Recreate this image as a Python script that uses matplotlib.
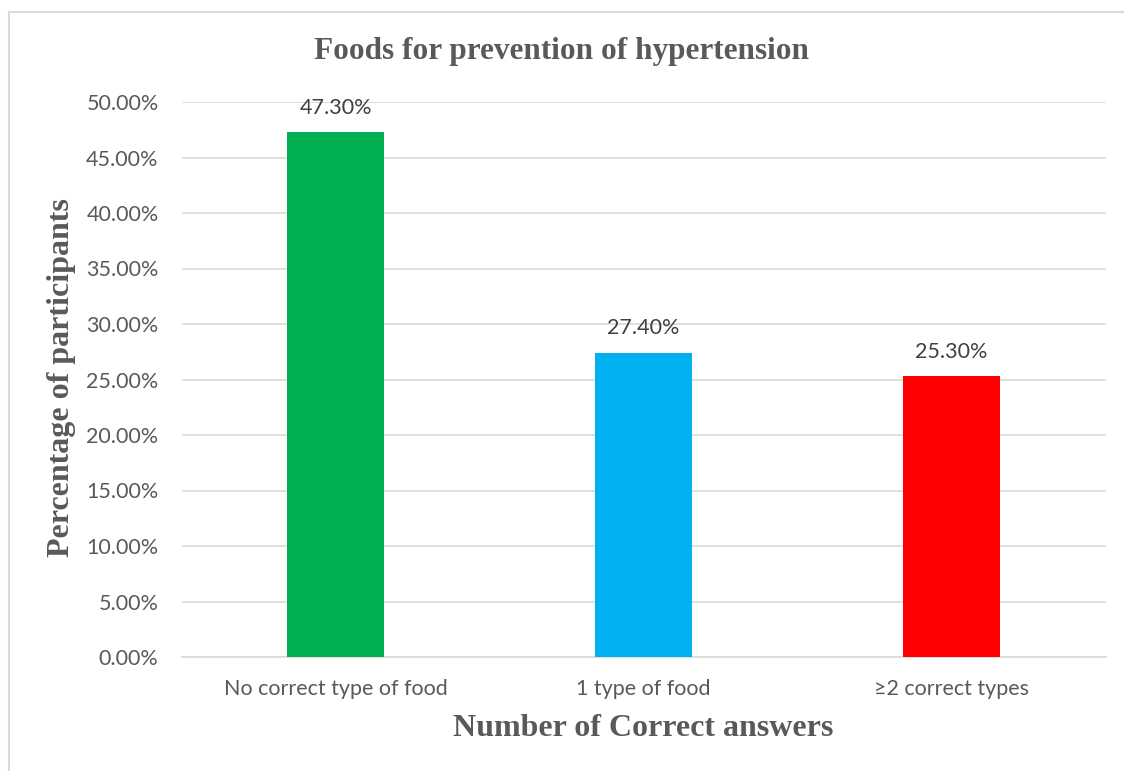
import matplotlib.pyplot as plt
from matplotlib.patches import Rectangle
from matplotlib.ticker import FuncFormatter

categories = ["No correct type of food", "1 type of food", "\u22652 correct types"]
values = [47.30, 27.40, 25.30]
colors = ["#00B050", "#00B0F0", "#FF0000"]
yticks = [0, 5, 10, 15, 20, 25, 30, 35, 40, 45, 50]

GREY = "#595959"
SANS = ["Lato", "DejaVu Sans"]
SERIF = "Liberation Serif"
W, H = 1124, 771

fig = plt.figure(figsize=(W / 100, H / 100), dpi=100)
ax = fig.add_axes([181.5 / W, 1 - 657 / H, 924 / W, 555 / H])

# chart-area frame (only top and left edges fall inside the image)
fig.add_artist(Rectangle((9 / W, -0.1), 1.2, 1 - 12 / H + 0.1,
                         transform=fig.transFigure, fill=False,
                         ec="#D9D9D9", lw=1.5))

x = range(len(categories))
ax.bar(x, values, width=0.315, color=colors, zorder=3)
for xi, v in zip(x, values):
    ax.text(xi, v + 1.3, f"{v:.2f}%", ha="center", va="bottom",
            fontsize=15.5, color="#404040", family=SANS)

ax.set_xlim(-0.5, 2.5)
ax.set_ylim(0, 50)
ax.set_yticks(yticks)
ax.yaxis.set_major_formatter(FuncFormatter(lambda v, _: f"{v:.2f}%"))
ax.set_xticks(list(x))
ax.set_xticklabels(categories)
ax.grid(axis="y", color="#D9D9D9", lw=1.2, zorder=0)
for s in ["top", "right", "left"]:
    ax.spines[s].set_visible(False)
ax.spines["bottom"].set_color("#D9D9D9")
ax.spines["bottom"].set_linewidth(1.2)
ax.tick_params(length=0, colors=GREY, labelsize=15.5)
ax.tick_params(axis="y", pad=16.5)
ax.tick_params(axis="x", pad=16)
for lab in ax.get_xticklabels() + ax.get_yticklabels():
    lab.set_family(SANS)

fig.text(562 / W, 1 - 52 / H, "Foods for prevention of hypertension",
         ha="center", va="center", fontsize=22.5, fontweight="bold",
         family=SERIF, color=GREY)
fig.text(643 / W, 1 - 728 / H, "Number of Correct answers",
         ha="center", va="center", fontsize=23, fontweight="bold",
         family=SERIF, color=GREY)
fig.text(62 / W, 1 - 378 / H, "Percentage of participants",
         ha="center", va="center", rotation=90, fontsize=23,
         fontweight="bold", family=SERIF, color=GREY)

fig.savefig("out.png", dpi=100)
